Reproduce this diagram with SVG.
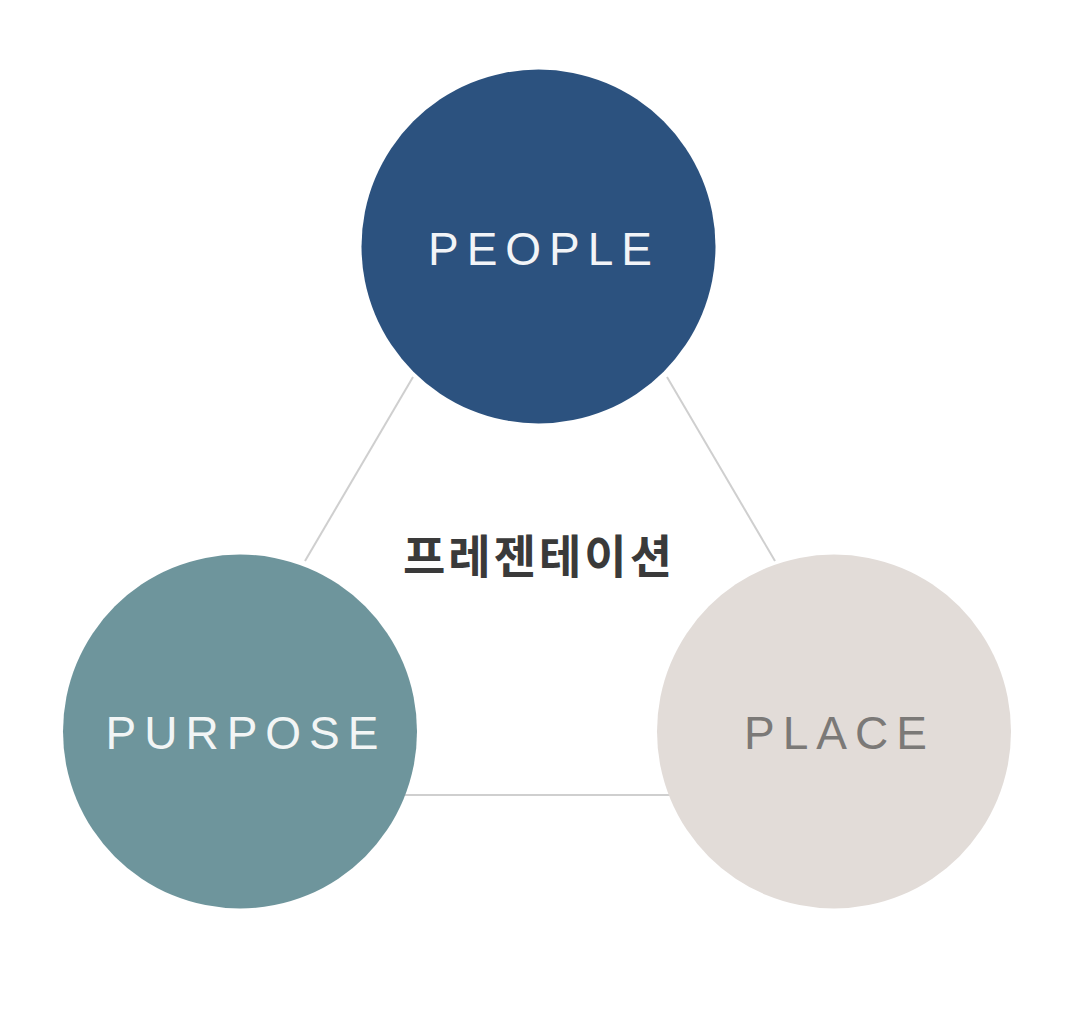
<svg xmlns="http://www.w3.org/2000/svg" width="1080" height="1011" viewBox="0 0 1080 1011">
<style>
.lbl{font-family:"Liberation Sans","DejaVu Sans",sans-serif;font-size:46px;letter-spacing:8px;text-anchor:middle}
.edge{stroke:#cfcfcf;stroke-width:2;fill:none}
</style>
<rect width="1080" height="1011" fill="#ffffff"/>
<g id="connectors">
<line class="edge" x1="413" y1="377" x2="305" y2="561"/>
<line class="edge" x1="667" y1="377" x2="775" y2="561"/>
<line class="edge" x1="405" y1="795" x2="670" y2="795"/>
</g>
<g id="people">
<circle cx="538.5" cy="246.5" r="177" fill="#2c527f"/>
<text class="lbl" x="544" y="265" fill="#f2f4f7">PEOPLE</text>
</g>
<g id="purpose">
<circle cx="240" cy="731.5" r="177" fill="#6e959c"/>
<text class="lbl" x="246" y="749" fill="#f2f5f5">PURPOSE</text>
</g>
<g id="place">
<circle cx="834" cy="731.5" r="177" fill="#e2dcd8"/>
<text class="lbl" x="839.5" y="749" fill="#7b7977">PLACE</text>
</g>
<g id="center">
<text x="539" y="573" font-family="'Noto Sans CJK KR',sans-serif" font-size="46" font-weight="bold" letter-spacing="3" fill="#3a3a3a" text-anchor="middle">프레젠테이션</text>
</g>
</svg>
